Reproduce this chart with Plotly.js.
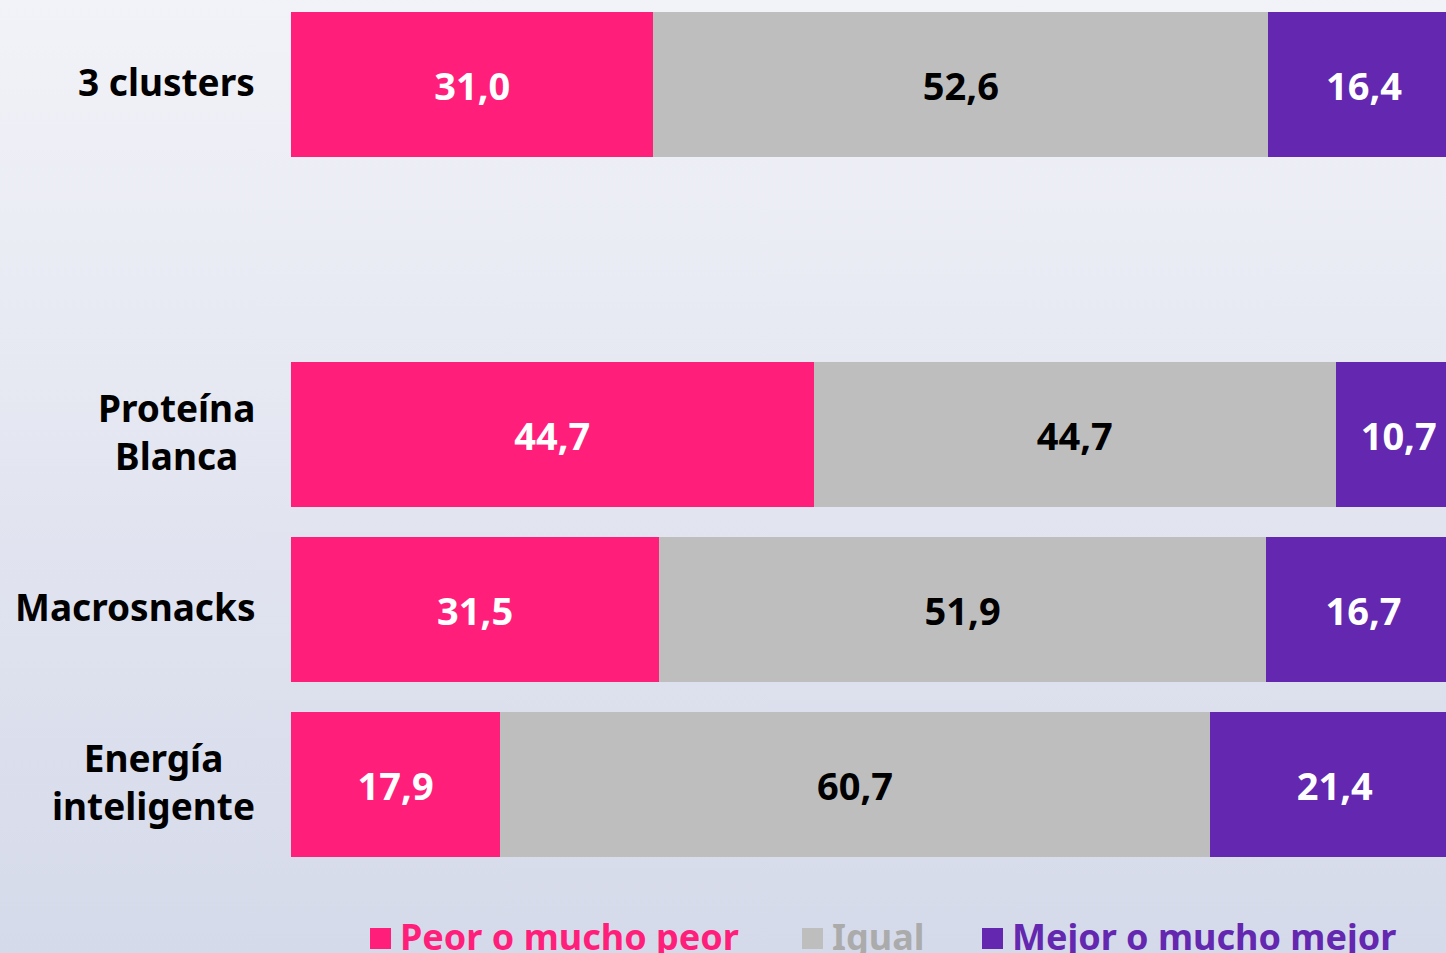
<!DOCTYPE html>
<html>
<head>
<meta charset="utf-8">
<script src="https://cdn.plot.ly/plotly-3.0.1.min.js"></script>
<style>
  html, body { margin:0; padding:0; width:1446px; height:953px; overflow:hidden;
    background: linear-gradient(to bottom, #F2F3F8 0%, #E6E8F2 40%, #D5DAEA 100%); }
  #chart { width:1446px; height:953px; }
</style>
</head>
<body>
<div id="chart"></div>
<script>
const categories = ['3 clusters', 'Proteína<br>Blanca', 'Macrosnacks', 'Energía<br>inteligente'];
const positions = [0, 2, 3, 4];
const seriesNames = ['Peor o mucho peor', 'Igual', 'Mejor o mucho mejor'];
const peor = [31.0, 44.7, 31.5, 17.9];
const igual = [52.6, 44.7, 51.9, 60.7];
const mejor = [16.4, 10.7, 16.7, 21.4];

const colors = ['#FF1F7A', '#BEBEBE', '#6327B0'];
const textColors = ['#FFFFFF', '#000000', '#FFFFFF'];
const legendTextColors = ['#FF1F7A', '#ABABAB', '#6327B0'];
const FONT = 'Noto Sans, Lato, sans-serif';

const values = [peor, igual, mejor];
const traces = values.map((v, i) => ({
  type: 'bar',
  orientation: 'h',
  x: v,
  y: positions,
  name: seriesNames[i],
  width: 0.83,
  marker: { color: colors[i], line: { width: 0 } },
  texttemplate: '%{x:.1f}',
  textposition: 'inside',
  insidetextanchor: 'middle',
  textangle: 0,
  constraintext: 'none',
  textfont: { family: FONT, size: 38, color: textColors[i], weight: 700 },
  hoverinfo: 'skip'
}));

const annotations = categories.map((c, i) => ({
  xref: 'paper', yref: 'y', x: 0, y: positions[i],
  xanchor: 'right', yanchor: 'middle', xshift: -34, yshift: 3,
  text: c, align: 'center', showarrow: false,
  font: { family: FONT, size: 37, color: '#000000', weight: 700 }
}));

// legend (manual, to match the large squares and coloured labels)
const legendX = [370, 802, 982];
const shapes = [];
seriesNames.forEach((n, i) => {
  shapes.push({
    type: 'rect', xref: 'paper', yref: 'paper',
    x0: (legendX[i] - 291) / 1155, x1: (legendX[i] + 21 - 291) / 1155,
    y0: -(928 - 872) / 872, y1: -(949 - 872) / 872,
    fillcolor: colors[i], line: { width: 0 }
  });
  annotations.push({
    xref: 'paper', yref: 'paper',
    x: (legendX[i] + 28 - 291) / 1155, y: -(936 - 872) / 872,
    xanchor: 'left', yanchor: 'middle',
    text: n, showarrow: false,
    font: { family: FONT, size: 36, color: legendTextColors[i], weight: 700 }
  });
});

const layout = {
  width: 1446, height: 953,
  margin: { l: 291, r: 0, t: 0, b: 81, pad: 0 },
  paper_bgcolor: 'rgba(0,0,0,0)',
  plot_bgcolor: 'rgba(0,0,0,0)',
  barmode: 'stack',
  separators: ',.',
  showlegend: false,
  xaxis: { range: [0, 98.8], visible: false, fixedrange: true },
  yaxis: { range: [4.5, -0.483], showticklabels: false, showgrid: false,
           zeroline: false, showline: false, ticks: '', fixedrange: true },
  annotations: annotations,
  shapes: shapes,
  font: { family: FONT }
};

Plotly.newPlot('chart', traces, layout, { displayModeBar: false, staticPlot: true });
</script>
</body>
</html>
